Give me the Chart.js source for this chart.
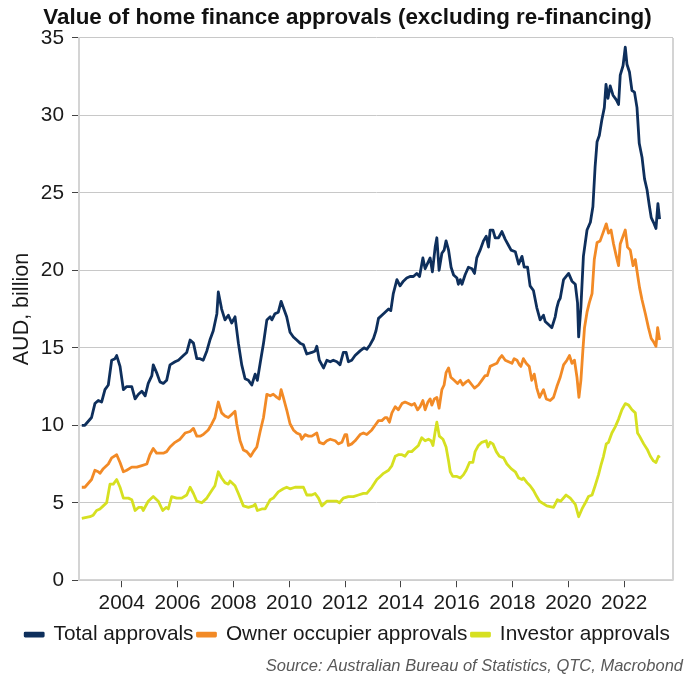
<!DOCTYPE html>
<html>
<head>
<meta charset="utf-8">
<script src="https://cdn.jsdelivr.net/npm/chart.js@4.4.0/dist/chart.umd.min.js"></script>
<style>
  html, body { margin: 0; padding: 0; background: #fff; }
</style>
</head>
<body>
<canvas id="myChart" width="698" height="677"></canvas>
<script>
// values in AUD billion, dates as decimal years (monthly series)
const totalDates = [2002.57,2002.68,2002.92,2003.04,2003.16,2003.28,2003.40,2003.52,2003.64,2003.76,2003.82,2003.94,2004.06,2004.18,2004.36,2004.48,2004.60,2004.72,2004.84,2004.95,2005.08,2005.13,2005.25,2005.37,2005.49,2005.61,2005.73,2005.91,2006.03,2006.21,2006.33,2006.45,2006.57,2006.69,2006.81,2006.92,2007.05,2007.16,2007.28,2007.41,2007.46,2007.58,2007.70,2007.82,2007.94,2008.06,2008.18,2008.30,2008.42,2008.54,2008.66,2008.78,2008.86,2008.96,2009.08,2009.20,2009.32,2009.38,2009.49,2009.61,2009.71,2009.79,2009.91,2010.03,2010.15,2010.27,2010.39,2010.51,2010.63,2010.81,2010.93,2010.99,2011.08,2011.23,2011.35,2011.47,2011.58,2011.71,2011.82,2011.94,2012.04,2012.12,2012.24,2012.36,2012.54,2012.68,2012.78,2012.90,2013.02,2013.11,2013.20,2013.38,2013.56,2013.64,2013.73,2013.86,2013.97,2014.09,2014.21,2014.33,2014.45,2014.57,2014.67,2014.79,2014.87,2014.97,2015.05,2015.13,2015.23,2015.29,2015.37,2015.47,2015.55,2015.62,2015.71,2015.80,2015.89,2016.01,2016.06,2016.13,2016.19,2016.30,2016.42,2016.55,2016.64,2016.72,2016.84,2016.96,2017.06,2017.14,2017.20,2017.30,2017.38,2017.50,2017.62,2017.74,2017.86,2017.95,2018.10,2018.22,2018.34,2018.42,2018.54,2018.63,2018.75,2018.87,2018.99,2019.11,2019.17,2019.29,2019.41,2019.53,2019.59,2019.65,2019.71,2019.83,2020.01,2020.13,2020.25,2020.33,2020.37,2020.45,2020.54,2020.67,2020.79,2020.88,2020.96,2021.03,2021.11,2021.20,2021.29,2021.35,2021.42,2021.50,2021.60,2021.72,2021.80,2021.86,2021.96,2022.04,2022.10,2022.19,2022.28,2022.37,2022.46,2022.54,2022.64,2022.73,2022.82,2022.90,2022.97,2023.05,2023.14,2023.21,2023.27];
const totalValues = [10.0,10.0,10.5,11.4,11.6,11.5,12.3,12.6,14.2,14.3,14.5,13.8,12.3,12.5,12.5,11.7,12.0,12.2,11.9,12.7,13.2,13.9,13.4,12.8,12.7,12.9,13.9,14.1,14.2,14.5,14.7,15.5,15.3,14.3,14.3,14.2,14.8,15.5,16.1,17.2,18.6,17.5,16.8,17.1,16.6,17.0,15.3,13.9,13.0,12.9,12.6,13.3,12.9,14.0,15.3,16.8,17.0,16.8,17.2,17.3,18.0,17.6,17.0,16.0,15.7,15.5,15.3,15.2,14.6,14.7,14.8,15.1,14.2,13.7,14.2,14.1,14.2,14.1,13.9,14.7,14.7,14.1,14.2,14.5,14.8,15.0,14.9,15.2,15.6,16.1,16.9,17.2,17.5,17.4,18.5,19.4,19.0,19.3,19.5,19.6,19.6,19.8,19.6,20.8,20.1,20.5,20.8,19.9,21.5,22.1,20.0,21.1,21.3,21.9,21.3,20.2,19.7,19.5,19.1,19.4,19.1,19.7,20.2,20.1,19.8,20.8,21.3,21.9,22.2,21.5,22.6,22.6,22.1,22.1,22.5,22.0,21.6,21.3,21.2,20.4,20.9,20.2,20.2,19.0,18.7,17.6,16.8,17.1,16.7,16.5,16.3,17.0,17.6,18.0,18.2,19.4,19.8,19.3,19.1,17.9,15.7,17.6,20.9,22.6,23.1,24.1,26.7,28.3,28.7,29.7,30.5,32.0,31.1,31.9,31.3,31.0,30.7,32.6,33.2,34.4,33.3,32.8,31.6,31.5,30.5,28.2,27.3,25.9,25.2,24.2,23.4,23.1,22.7,24.3,23.3];

const ownerDates = [2002.57,2002.68,2002.92,2003.04,2003.16,2003.22,2003.34,2003.52,2003.64,2003.82,2003.94,2004.06,2004.18,2004.36,2004.54,2004.72,2004.90,2005.01,2005.13,2005.25,2005.37,2005.49,2005.61,2005.73,2005.91,2006.09,2006.27,2006.45,2006.57,2006.69,2006.81,2006.92,2007.10,2007.23,2007.34,2007.46,2007.58,2007.70,2007.82,2007.94,2008.06,2008.12,2008.24,2008.36,2008.48,2008.62,2008.72,2008.84,2008.96,2009.08,2009.20,2009.32,2009.43,2009.56,2009.65,2009.71,2009.79,2009.91,2010.03,2010.15,2010.27,2010.39,2010.45,2010.57,2010.69,2010.81,2010.99,2011.08,2011.23,2011.35,2011.47,2011.65,2011.76,2011.89,2012.00,2012.06,2012.12,2012.24,2012.36,2012.54,2012.66,2012.78,2012.96,2013.08,2013.20,2013.32,2013.44,2013.50,2013.59,2013.68,2013.80,2013.91,2014.04,2014.15,2014.27,2014.39,2014.49,2014.60,2014.69,2014.79,2014.87,2014.97,2015.05,2015.11,2015.20,2015.29,2015.37,2015.47,2015.55,2015.62,2015.71,2015.79,2015.91,2016.03,2016.13,2016.22,2016.34,2016.42,2016.55,2016.64,2016.78,2016.90,2017.02,2017.10,2017.20,2017.32,2017.44,2017.53,2017.62,2017.74,2017.86,2017.98,2018.06,2018.16,2018.25,2018.30,2018.39,2018.49,2018.60,2018.69,2018.78,2018.87,2018.97,2019.11,2019.21,2019.35,2019.47,2019.59,2019.71,2019.83,2019.95,2020.04,2020.13,2020.22,2020.31,2020.38,2020.45,2020.52,2020.58,2020.67,2020.75,2020.85,2020.93,2021.03,2021.14,2021.24,2021.36,2021.44,2021.53,2021.62,2021.72,2021.80,2021.86,2021.96,2022.04,2022.12,2022.22,2022.32,2022.40,2022.49,2022.55,2022.64,2022.76,2022.87,2022.97,2023.05,2023.14,2023.20,2023.27];
const ownerValues = [6.0,6.0,6.5,7.1,7.0,6.9,7.2,7.5,7.9,8.1,7.6,7.0,7.1,7.3,7.3,7.4,7.5,8.1,8.5,8.2,8.2,8.2,8.3,8.6,8.9,9.1,9.5,9.6,9.8,9.3,9.3,9.4,9.7,10.1,10.5,11.5,10.8,10.6,10.5,10.7,10.9,10.1,9.0,8.4,8.3,8.0,8.3,8.6,9.6,10.5,12.0,11.9,12.0,11.8,11.7,12.3,11.8,11.0,10.1,9.7,9.5,9.4,9.1,9.4,9.3,9.3,9.5,8.9,8.8,9.0,9.1,9.0,8.8,8.9,9.4,9.4,8.7,8.8,9.0,9.4,9.5,9.4,9.7,10.0,10.3,10.3,10.5,10.5,10.2,10.8,11.2,11.0,11.4,11.5,11.4,11.3,11.4,11.0,11.2,11.6,11.0,11.5,11.7,11.3,11.7,11.8,11.1,12.3,12.6,13.4,13.7,13.1,12.9,12.7,12.9,12.6,12.8,12.9,12.6,12.4,12.6,12.9,13.2,13.2,13.8,13.9,14.0,14.3,14.5,14.2,14.1,14.0,14.3,14.2,13.9,13.8,14.3,14.0,13.8,12.9,13.3,12.4,11.8,12.3,11.7,11.6,11.8,12.5,13.1,13.9,14.2,14.5,14.0,14.2,13.1,11.8,12.9,14.8,16.3,17.3,17.9,18.5,20.7,21.8,21.9,22.4,23.0,22.4,22.6,21.7,20.9,20.3,21.7,22.2,22.6,21.5,21.3,20.3,20.7,19.6,18.9,18.1,17.2,16.3,15.6,15.4,15.1,16.3,15.5];

const investorDates = [2002.57,2002.86,2002.98,2003.10,2003.22,2003.34,2003.46,2003.58,2003.70,2003.82,2003.94,2004.06,2004.24,2004.36,2004.48,2004.60,2004.72,2004.77,2004.95,2005.13,2005.31,2005.47,2005.59,2005.67,2005.79,2005.97,2006.15,2006.33,2006.45,2006.57,2006.69,2006.87,2007.05,2007.23,2007.34,2007.46,2007.58,2007.70,2007.82,2007.88,2008.06,2008.18,2008.36,2008.54,2008.72,2008.78,2008.86,2009.02,2009.14,2009.32,2009.43,2009.61,2009.79,2009.91,2010.03,2010.21,2010.39,2010.51,2010.63,2010.81,2010.93,2011.05,2011.17,2011.35,2011.53,2011.71,2011.80,2011.94,2012.12,2012.30,2012.48,2012.66,2012.78,2012.96,2013.14,2013.26,2013.38,2013.56,2013.68,2013.80,2013.91,2014.04,2014.15,2014.27,2014.39,2014.51,2014.63,2014.75,2014.87,2014.99,2015.08,2015.15,2015.23,2015.29,2015.38,2015.51,2015.62,2015.71,2015.77,2015.86,2016.01,2016.13,2016.24,2016.34,2016.46,2016.58,2016.66,2016.78,2016.90,2017.06,2017.12,2017.20,2017.30,2017.42,2017.53,2017.68,2017.80,2017.95,2018.10,2018.22,2018.34,2018.39,2018.52,2018.63,2018.75,2018.87,2018.97,2019.23,2019.47,2019.61,2019.73,2019.92,2020.07,2020.25,2020.37,2020.49,2020.61,2020.72,2020.85,2020.96,2021.08,2021.18,2021.26,2021.36,2021.44,2021.56,2021.68,2021.80,2021.92,2022.04,2022.16,2022.28,2022.40,2022.48,2022.55,2022.70,2022.84,2022.94,2023.05,2023.14,2023.23,2023.27];
const investorValues = [4.0,4.1,4.2,4.5,4.6,4.8,5.0,6.2,6.2,6.5,6.0,5.3,5.3,5.2,4.5,4.7,4.7,4.5,5.1,5.4,5.1,4.5,4.7,4.6,5.4,5.3,5.3,5.5,6.0,5.6,5.1,5.0,5.3,5.8,6.1,7.0,6.6,6.3,6.2,6.4,6.1,5.6,4.8,4.7,4.8,4.9,4.5,4.6,4.6,5.2,5.3,5.7,5.9,6.0,5.9,6.0,6.0,6.0,5.5,5.5,5.6,5.3,4.8,5.1,5.1,5.1,5.0,5.3,5.4,5.4,5.5,5.6,5.6,6.0,6.5,6.7,6.9,7.1,7.4,8.0,8.1,8.1,8.0,8.3,8.3,8.5,8.7,9.2,9.0,9.1,9.0,8.7,9.6,10.2,9.3,9.1,8.6,7.7,7.0,6.7,6.7,6.6,6.8,7.1,7.6,7.6,8.3,8.7,8.9,9.0,8.6,8.9,8.8,8.3,8.0,7.9,7.5,7.2,7.0,6.6,6.5,6.6,6.3,6.1,5.8,5.4,5.1,4.8,4.7,5.2,5.1,5.5,5.3,4.9,4.1,4.6,5.0,5.4,5.5,6.1,6.8,7.5,8.0,8.8,8.9,9.5,9.9,10.4,11.0,11.4,11.3,11.0,10.8,9.5,9.3,8.8,8.4,8.0,7.7,7.6,8.0,7.9];

const yearTicks = [2004, 2006, 2008, 2010, 2012, 2014, 2016, 2018, 2020, 2022];
const seriesNames = ["Total approvals", "Owner occupier approvals", "Investor approvals"];
const chartTitle = "Value of home finance approvals (excluding re-financing)";
const yTitle = "AUD, billion";
const sourceNote = "Source: Australian Bureau of Statistics, QTC, Macrobond";

const colors = ["#0e2f5c", "#f28a26", "#d6e021"];

const toPoints = (xs, ys) => xs.map((x, i) => ({ x: x, y: ys[i] }));

Chart.defaults.font.family = '"Liberation Sans", Arial, Helvetica, sans-serif';
Chart.defaults.color = "#1a1a1a";

// right frame line + source note
const frameAndSource = {
  id: "frameAndSource",
  beforeDatasetsDraw(chart) {
    const { ctx, chartArea: a } = chart;
    ctx.save();
    ctx.strokeStyle = "#d4d4d4";
    ctx.lineWidth = 2;
    ctx.beginPath();
    ctx.moveTo(a.right, a.top);
    ctx.lineTo(a.right, a.bottom);
    ctx.stroke();
    ctx.restore();
  },
  afterDraw(chart) {
    const ctx = chart.ctx;
    ctx.save();
    ctx.font = 'italic 16.5px "Liberation Sans", Arial, sans-serif';
    ctx.fillStyle = "#595959";
    ctx.textAlign = "right";
    ctx.textBaseline = "middle";
    ctx.fillText(sourceNote, 683, 666);
    ctx.restore();
  },
};

let myCt = document.getElementById("myChart");
let myChart = new Chart(myCt, {
  type: "line",
  data: {
    datasets: [
      { label: seriesNames[0], data: toPoints(totalDates, totalValues) },
      { label: seriesNames[1], data: toPoints(ownerDates, ownerValues) },
      { label: seriesNames[2], data: toPoints(investorDates, investorValues) },
    ].map((d, i) => ({
      ...d,
      borderColor: colors[i],
      backgroundColor: colors[i],
      borderWidth: 2.8,
      pointRadius: 0,
      tension: 0,
      fill: false,
      borderJoinStyle: "round",
    })),
  },
  options: {
    responsive: false,
    devicePixelRatio: 1,
    animation: false,
    layout: { padding: { left: 16, right: 19, top: 0, bottom: 22 } },
    plugins: {
      title: {
        display: true,
        text: chartTitle,
        color: "#111",
        font: { size: 22.4, weight: "bold" },
        padding: { top: 4, bottom: 7 },
      },
      legend: {
        position: "bottom",
        labels: {
          boxWidth: 18,
          boxHeight: 3,
          padding: 4,
          color: "#1a1a1a",
          font: { size: 20.8 },
        },
      },
      tooltip: { enabled: false },
    },
    scales: {
      x: {
        type: "linear",
        min: 2002.47,
        max: 2023.75,
        afterBuildTicks: (s) => {
          s.ticks = yearTicks.map((v) => ({ value: v }));
        },
        ticks: {
          callback: (v) => String(v),
          font: { size: 20.8 },
          color: "#1a1a1a",
          padding: 4,
          maxRotation: 0,
        },
        grid: {
          drawOnChartArea: false,
          tickLength: 7,
          tickColor: "#444",
        },
        border: { color: "#d4d4d4", width: 1.5 },
      },
      y: {
        min: 0,
        max: 35,
        afterFit: (s) => {
          s.width = 63;
        },
        ticks: {
          stepSize: 5,
          font: { size: 20.8 },
          color: "#1a1a1a",
          padding: 8,
        },
        grid: {
          color: "#c8c8c8",
          tickLength: 7,
          tickColor: "#444",
        },
        border: { color: "#d4d4d4", width: 2 },
        title: {
          display: true,
          text: yTitle,
          font: { size: 21.5 },
          color: "#1a1a1a",
          padding: { top: -6.5, bottom: 0 },
        },
      },
      // empty spacer on the right so the plot ends where the reference does
      spacer: {
        type: "linear",
        position: "right",
        display: true,
        grid: { display: false },
        ticks: { display: false },
        border: { display: false },
        afterFit: (s) => {
          s.width = 6;
        },
      },
    },
  },
  plugins: [frameAndSource],
});
</script>
</body>
</html>
